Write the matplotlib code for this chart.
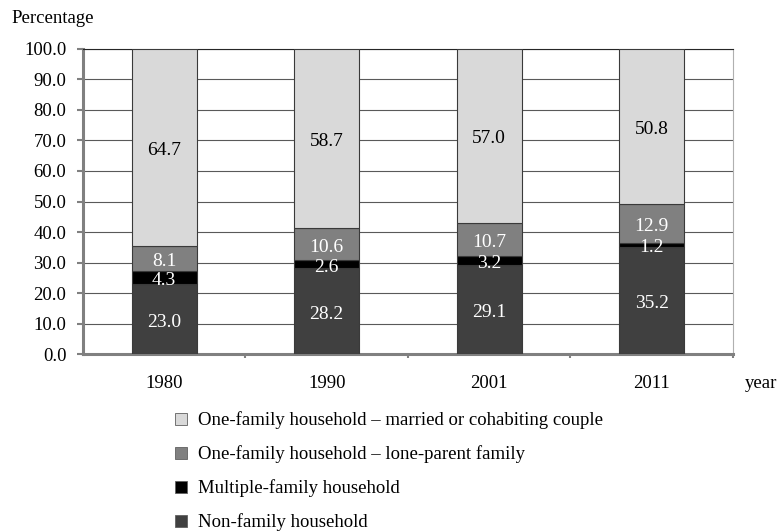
import numpy as np
import matplotlib.pyplot as plt
from matplotlib.patches import Patch

plt.rcParams['font.family'] = ['Liberation Serif', 'DejaVu Serif']

years = ['1980', '1990', '2001', '2011']
non_family = [23.0, 28.2, 29.1, 35.2]
multiple_family = [4.3, 2.6, 3.2, 1.2]
lone_parent = [8.1, 10.6, 10.7, 12.9]
couple = [64.7, 58.7, 57.0, 50.8]

series = [
    (non_family, '#404040', 'white', 'Non-family household'),
    (multiple_family, '#000000', 'white', 'Multiple-family household'),
    (lone_parent, '#808080', 'white', 'One-family household – lone-parent family'),
    (couple, '#d9d9d9', 'black', 'One-family household – married or cohabiting couple'),
]

fig = plt.figure(figsize=(7.83, 5.31), dpi=100)
ax = fig.add_axes([0.106, 0.333, 0.830, 0.575])

x = np.arange(len(years))
bottom = np.zeros(len(years))
for vals, col, tcol, name in series:
    vals = np.array(vals)
    ax.bar(x, vals, width=0.4, bottom=bottom, color=col,
           edgecolor='#3a3a3a', linewidth=0.8, zorder=3)
    for xi, b, v in zip(x, bottom, vals):
        ax.text(xi, b + v / 2 - 1.0, f'{v:.1f}', ha='center', va='center',
                color=tcol, fontsize=14, zorder=4)
    bottom += vals

ax.set_xlim(-0.5, 3.5)
ax.set_ylim(0, 100)
ax.set_yticks(np.arange(0, 101, 10))
ax.set_yticklabels([f'{v:.1f}' for v in np.arange(0, 101, 10)], fontsize=13.5)
ax.set_xticks(x)
ax.set_xticklabels(years, fontsize=13.5)
ax.set_xticks([0.5, 1.5, 2.5, 3.5], minor=True)
ax.tick_params(axis='x', which='major', length=0, pad=15)
ax.tick_params(axis='x', which='minor', length=3, width=1.5, color='#808080')
ax.tick_params(axis='y', length=4, width=1.5, color='#808080', pad=8)

ax.grid(axis='y', color='#595959', linewidth=0.8, zorder=0)
for side in ['left', 'bottom']:
    ax.spines[side].set_color('#808080')
    ax.spines[side].set_linewidth(2.2)
ax.spines['right'].set_color('#b0b0b0')
ax.spines['right'].set_linewidth(0.8)
ax.spines['top'].set_color('#262626')
ax.spines['top'].set_linewidth(0.8)

fig.text(0.015, 0.966, 'Percentage', fontsize=13.5, ha='left', va='center')
fig.text(0.951, 0.278, 'year', fontsize=13.5, ha='left', va='center')

handles = [Patch(facecolor=col, edgecolor='#606060', linewidth=0.6, label=name)
           for vals, col, tcol, name in reversed(series)]
fig.legend(handles=handles, loc='upper left', bbox_to_anchor=(0.212, 0.243),
           frameon=False, fontsize=13.5, handlelength=0.6, handleheight=0.6,
           handletextpad=0.6, labelspacing=0.86, borderpad=0)

fig.savefig('out.png', dpi=100)
